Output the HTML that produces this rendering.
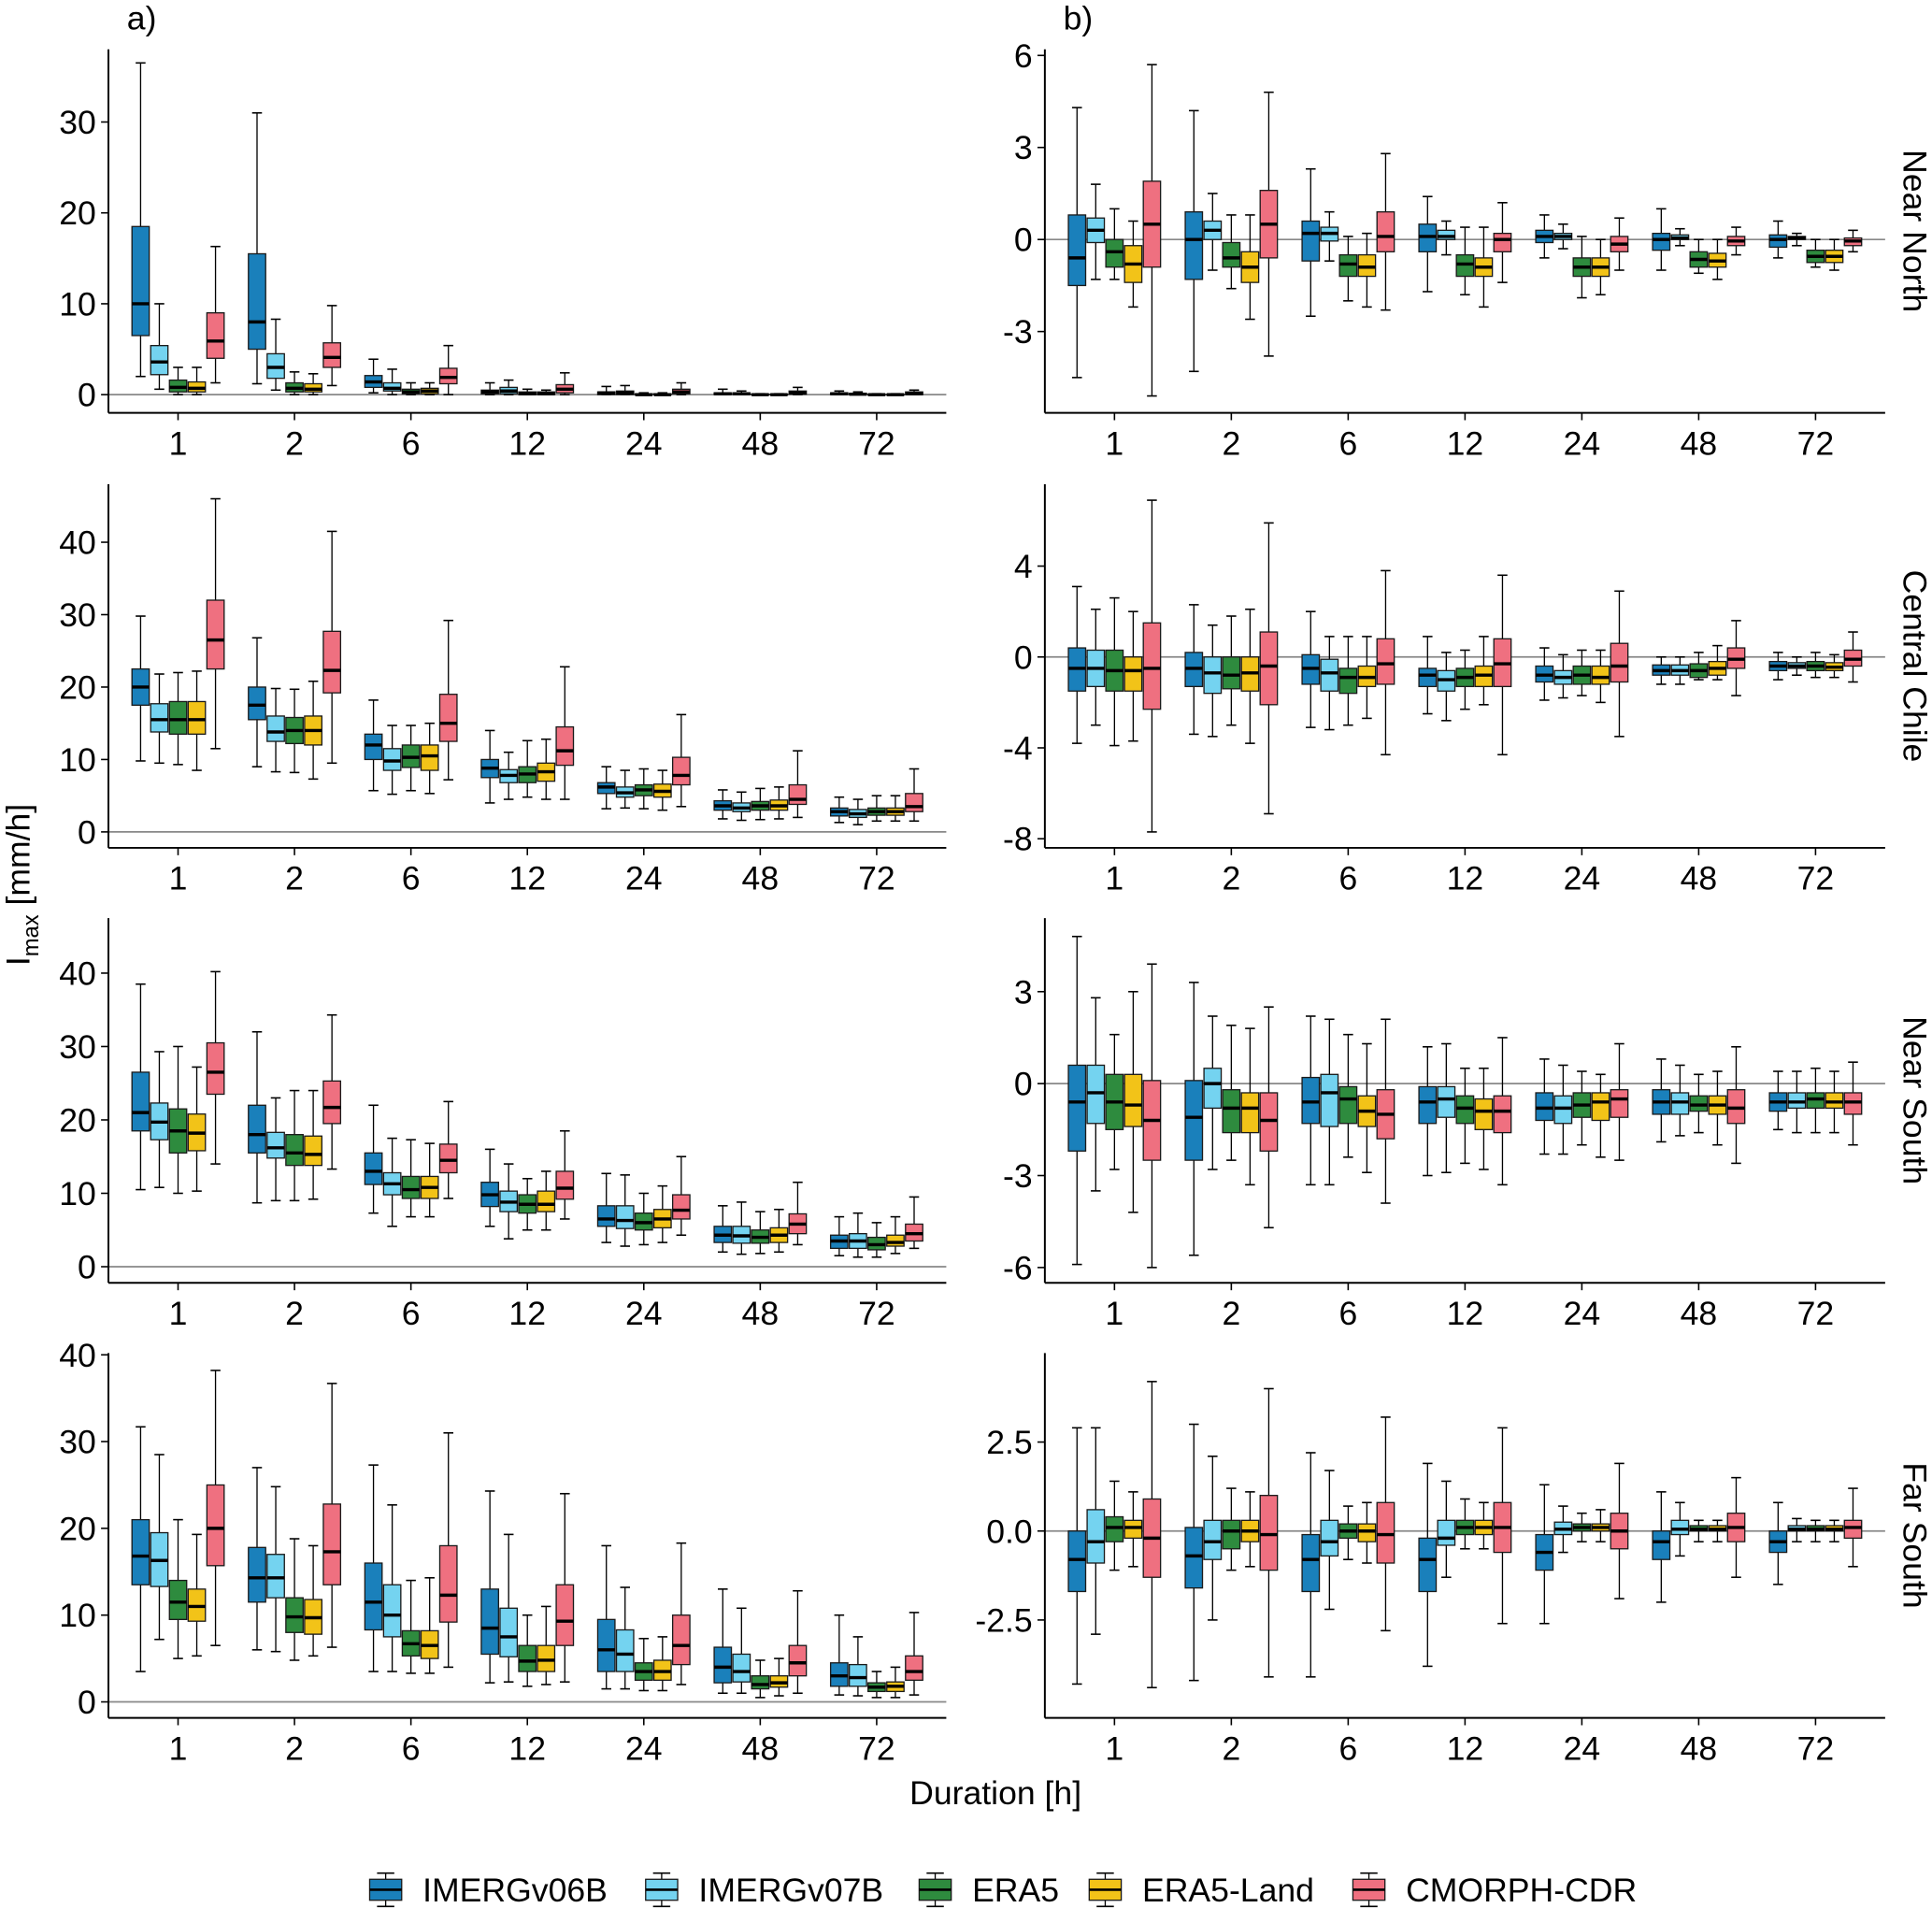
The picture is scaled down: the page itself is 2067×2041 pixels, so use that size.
<!DOCTYPE html>
<html><head><meta charset="utf-8"><style>
html,body{margin:0;padding:0;background:#fff}
svg{display:block}
text{font-family:"Liberation Sans",Arial,sans-serif;fill:#000}
</style></head><body>
<svg id="chart" xmlns="http://www.w3.org/2000/svg" width="2067" height="2041" viewBox="0 0 1568 1548.3">
<rect width="1568" height="1549" fill="#fff"/>
<text x="103" y="24" font-size="27">a)</text>
<text x="863" y="24" font-size="27">b)</text>
<text transform="translate(24,718) rotate(-90)" text-anchor="middle" font-size="27">I<tspan font-size="18" dy="7">max</tspan><tspan dy="-7"> [mm/h]</tspan></text>
<text x="808" y="1464" text-anchor="middle" font-size="27">Duration [h]</text>
<g id="plots"></g>
<g id="legend"></g>
</svg>
<script>
const categories = ["1","2","6","12","24","48","72"];
const seriesNames = ["IMERGv06B","IMERGv07B","ERA5","ERA5-Land","CMORPH-CDR"];
const regions = ["Near North","Central Chile","Near South","Far South"];
const colors = ["#1a80bb","#74d3f0","#2e8b3e","#f2c318","#ef7080"];

// each entry: [lower whisker, q1, median, q3, upper whisker]
// Panel a) Imax, Near North
const aNN_v06=[[2,6.5,10,18.5,36.5],[1.2,5,8,15.5,31],[0.2,0.8,1.4,2.1,3.9],[0,0.1,0.3,0.5,1.3],[0,0,0.2,0.3,0.9],[0,0,0.1,0.2,0.6],[0,0,0.1,0.2,0.4]];
const aNN_v07=[[0.6,2.2,3.6,5.4,10],[0.5,1.8,3,4.5,8.3],[0,0.4,0.7,1.3,2.8],[0,0.1,0.4,0.8,1.6],[0,0,0.2,0.4,1],[0,0,0.1,0.2,0.4],[0,0,0.05,0.15,0.3]];
const aNN_era5=[[0,0.3,0.8,1.6,3],[0,0.3,0.7,1.3,2.5],[0,0.1,0.3,0.6,1.3],[0,0,0.1,0.3,0.6],[0,0,0,0.1,0.2],[0,0,0,0.05,0.1],[0,0,0,0.03,0.1]];
const aNN_land=[[0,0.3,0.7,1.4,3],[0,0.3,0.6,1.2,2.3],[0,0.1,0.4,0.7,1.3],[0,0,0.1,0.3,0.5],[0,0,0,0.1,0.2],[0,0,0,0.05,0.1],[0,0,0,0.03,0.1]];
const aNN_cmorph=[[1.3,4,5.9,9,16.3],[1,3,4.1,5.7,9.8],[0,1.2,1.9,2.9,5.4],[0,0.2,0.6,1.1,2.4],[0,0.1,0.3,0.6,1.3],[0,0.05,0.2,0.4,0.8],[0,0,0.1,0.3,0.5]];
// Panel a) Central Chile
const aCC_v06=[[9.8,17.5,20,22.5,29.8],[9,15.5,17.5,20,26.8],[5.7,10,12,13.5,18.2],[4,7.5,8.8,10,14],[3.2,5.3,6.2,6.8,9],[1.8,3,3.6,4.3,5.8],[1.3,2.2,2.8,3.3,4.8]];
const aCC_v07=[[9.5,13.8,15.5,17.7,21.8],[8.3,12.5,13.8,16,19.8],[5.2,8.5,9.8,11.5,14.7],[4.5,6.8,7.8,8.6,11],[3.3,4.8,5.4,6.2,8.5],[1.6,2.8,3.3,4,5.5],[1,2,2.5,3.1,4.5]];
const aCC_era5=[[9.3,13.5,15.5,18,22],[8.2,12.2,14,15.8,19.7],[5.7,8.9,10.3,12,14.7],[4.8,6.8,8,9,12.6],[3.2,5,5.8,6.5,8.7],[1.7,3,3.6,4.2,6],[1.5,2.3,2.8,3.3,5]];
const aCC_land=[[8.5,13.5,15.5,18,22.2],[7.3,12,14,16,20.8],[5.3,8.5,10.5,12,15],[4.5,7,8.3,9.5,12.8],[3,4.8,5.6,6.6,8.5],[1.8,3,3.6,4.4,6.2],[1.5,2.3,2.8,3.3,5]];
const aCC_cmorph=[[11.5,22.5,26.5,32,46],[9.5,19.2,22.3,27.7,41.5],[7.2,12.5,15,19,29.2],[4.5,9.2,11.2,14.5,22.8],[3.5,6.5,7.8,10.3,16.2],[2,3.8,4.5,6.5,11.2],[1.5,2.8,3.5,5.3,8.7]];
// Panel a) Near South
const aNS_v06=[[10.5,18.5,21,26.5,38.5],[8.7,15.5,18,22,32],[7.3,11.2,13,15.5,22],[5.5,8.2,9.8,11.5,16],[3.3,5.5,6.5,8.3,12.7],[2,3.3,4.3,5.5,8.3],[1.5,2.5,3.5,4.3,6.8]];
const aNS_v07=[[10.8,17.3,19.7,22.3,29.3],[9,14.8,16.2,18.3,23],[5.5,9.8,11.3,12.8,17.5],[3.8,7.5,8.8,10.3,14],[2.8,5.2,6.3,8.3,12.5],[1.7,3.2,4.2,5.5,8.8],[1.3,2.5,3.5,4.5,7.3]];
const aNS_era5=[[10,15.5,18.5,21.5,30],[9,13.8,15.5,18,24],[6.8,9.3,10.5,12.3,17.3],[5,7.3,8.5,9.8,12],[3,5,6,7.3,10],[1.8,3.2,4,5,7.5],[1.3,2.3,3,4,6]];
const aNS_land=[[10.3,15.8,18.2,20.8,27.2],[9.2,13.8,15.3,17.8,24],[6.8,9.3,10.8,12.3,16.8],[5,7.5,8.5,10.3,13],[3.3,5.3,6.5,7.8,11],[2,3.3,4.3,5.3,7.8],[1.8,2.8,3.3,4.3,6.8]];
const aNS_cmorph=[[14,23.5,26.5,30.5,40.2],[13.3,19.5,21.7,25.3,34.3],[9.3,12.8,14.5,16.7,22.5],[6.5,9.2,10.7,13,18.5],[4.3,6.5,7.7,9.8,15],[3,4.5,5.8,7.2,11.5],[2.5,3.5,4.5,5.8,9.5]];
// Panel a) Far South
const aFS_v06=[[3.5,13.5,16.8,21,31.7],[6,11.5,14.3,17.8,27],[3.5,8.3,11.5,16,27.3],[2.2,5.5,8.5,13,24.3],[1.5,3.5,6,9.5,18],[1,2.2,4,6.3,13],[0.8,1.8,3,4.5,10]];
const aFS_v07=[[7.2,13.3,16.3,19.5,28.5],[5.8,12,14.3,17,24.8],[3.5,7.5,10,13.5,22.7],[2.3,5.2,7.5,10.8,19.3],[1.5,3.5,5.5,8.3,13.2],[1,2.3,3.5,5.5,10.8],[0.7,1.8,2.8,4.3,7.5]];
const aFS_era5=[[5,9.5,11.5,14,21],[4.8,8,9.8,12,18.8],[3.3,5.3,6.7,8.2,14],[1.8,3.5,4.7,6.5,10],[1.3,2.5,3.5,4.5,7.3],[0.5,1.5,2,3,4.8],[0.5,1.2,1.7,2.2,3.5]];
const aFS_land=[[5.3,9.3,11,13,19.3],[5.3,7.8,9.7,11.8,18],[3.3,5,6.5,8.2,14.3],[2,3.5,4.8,6.5,11],[1.3,2.5,3.5,4.8,7.5],[0.7,1.7,2.2,3,5],[0.5,1.2,1.8,2.3,4]];
const aFS_cmorph=[[6.5,15.7,20,25,38.2],[6.3,13.5,17.3,22.8,36.7],[4,9.2,12.3,18,31],[2.3,6.5,9.3,13.5,24],[2,4.3,6.5,10,18.3],[1,3,4.5,6.5,12.8],[0.8,2.5,3.5,5.3,10.3]];
// Panel b) Near North
const bNN_v06=[[-4.5,-1.5,-0.6,0.8,4.3],[-4.3,-1.3,0,0.9,4.2],[-2.5,-0.7,0.2,0.6,2.3],[-1.7,-0.4,0.1,0.5,1.4],[-0.6,-0.1,0.1,0.3,0.8],[-1,-0.35,0,0.2,1],[-0.6,-0.25,0,0.15,0.6]];
const bNN_v07=[[-1.3,-0.1,0.3,0.7,1.8],[-1,0,0.3,0.6,1.5],[-0.7,-0.05,0.2,0.4,0.9],[-0.5,0,0.1,0.3,0.6],[-0.3,0,0.1,0.2,0.5],[-0.2,0,0.05,0.15,0.35],[-0.2,0,0.05,0.1,0.2]];
const bNN_era5=[[-1.3,-0.9,-0.4,0,1],[-1.6,-0.9,-0.6,-0.1,0.8],[-2,-1.2,-0.8,-0.5,0.1],[-1.8,-1.2,-0.8,-0.5,0.4],[-1.9,-1.2,-0.9,-0.6,0.1],[-1.1,-0.9,-0.65,-0.4,0],[-0.9,-0.75,-0.55,-0.35,0]];
const bNN_land=[[-2.2,-1.4,-0.8,-0.2,0.6],[-2.6,-1.4,-0.9,-0.4,0.8],[-2.2,-1.2,-0.9,-0.5,0.2],[-2.2,-1.2,-0.9,-0.6,0.4],[-1.8,-1.2,-0.9,-0.6,0],[-1.3,-0.9,-0.7,-0.45,0],[-1,-0.75,-0.55,-0.35,0]];
const bNN_cmorph=[[-5.1,-0.9,0.5,1.9,5.7],[-3.8,-0.6,0.5,1.6,4.8],[-2.3,-0.4,0.1,0.9,2.8],[-1.4,-0.4,0,0.2,1.2],[-1,-0.4,-0.15,0.1,0.7],[-0.5,-0.2,-0.05,0.1,0.4],[-0.4,-0.2,-0.05,0.05,0.3]];
// Panel b) Central Chile
const bCC_v06=[[-3.8,-1.5,-0.5,0.4,3.1],[-3.4,-1.3,-0.5,0.2,2.3],[-3.1,-1.2,-0.5,0.1,2],[-2.5,-1.3,-0.8,-0.5,0.9],[-1.9,-1.1,-0.8,-0.4,0.4],[-1.2,-0.8,-0.6,-0.35,0],[-1,-0.6,-0.4,-0.2,0.2]];
const bCC_v07=[[-3,-1.3,-0.5,0.3,2.1],[-3.5,-1.6,-0.7,0,1.4],[-3.2,-1.5,-0.7,-0.1,0.9],[-2.8,-1.5,-1,-0.6,0.2],[-1.8,-1.2,-0.9,-0.6,0.1],[-1.2,-0.8,-0.6,-0.35,0],[-0.8,-0.5,-0.4,-0.25,0]];
const bCC_era5=[[-3.9,-1.5,-0.6,0.3,2.6],[-3,-1.4,-0.8,0,1.8],[-3,-1.6,-0.9,-0.5,0.9],[-2.3,-1.3,-0.9,-0.5,0.3],[-1.7,-1.2,-0.8,-0.4,0.3],[-1,-0.9,-0.6,-0.3,0.2],[-0.9,-0.6,-0.4,-0.2,0.2]];
const bCC_land=[[-3.7,-1.5,-0.6,0,2],[-3.8,-1.5,-0.7,0,2.1],[-2.7,-1.3,-0.9,-0.4,0.9],[-2.1,-1.3,-0.8,-0.4,0.9],[-2,-1.2,-0.9,-0.4,0.3],[-1,-0.8,-0.5,-0.2,0.5],[-0.9,-0.6,-0.45,-0.25,0.1]];
const bCC_cmorph=[[-7.7,-2.3,-0.5,1.5,6.9],[-6.9,-2.1,-0.4,1.1,5.9],[-4.3,-1.2,-0.3,0.8,3.8],[-4.3,-1.3,-0.3,0.8,3.6],[-3.5,-1.1,-0.4,0.6,2.9],[-1.7,-0.5,-0.1,0.4,1.6],[-1.1,-0.4,-0.1,0.3,1.1]];
// Panel b) Near South
const bNS_v06=[[-5.9,-2.2,-0.6,0.6,4.8],[-5.6,-2.5,-1.1,0.1,3.3],[-3.3,-1.3,-0.6,0.2,2.2],[-3,-1.3,-0.6,-0.1,1.2],[-2.3,-1.2,-0.8,-0.3,0.8],[-1.9,-1,-0.6,-0.2,0.8],[-1.5,-0.9,-0.6,-0.3,0.4]];
const bNS_v07=[[-3.5,-1.3,-0.3,0.6,2.8],[-2.8,-0.8,0,0.5,2.2],[-3.3,-1.4,-0.3,0.3,2.1],[-2.9,-1.1,-0.5,-0.1,1.3],[-2.3,-1.3,-0.8,-0.4,0.6],[-1.7,-1,-0.6,-0.3,0.6],[-1.6,-0.8,-0.6,-0.3,0.4]];
const bNS_era5=[[-2.8,-1.5,-0.6,0.3,1.6],[-2.5,-1.6,-0.8,-0.2,1.9],[-2.4,-1.3,-0.5,-0.1,1.6],[-2.6,-1.3,-0.8,-0.4,0.5],[-2,-1.1,-0.7,-0.3,0.4],[-1.6,-0.9,-0.7,-0.4,0.3],[-1.6,-0.8,-0.5,-0.3,0.5]];
const bNS_land=[[-4.2,-1.4,-0.7,0.3,3],[-3.3,-1.6,-0.8,-0.3,1.8],[-2.9,-1.4,-0.9,-0.4,1.3],[-2.8,-1.5,-0.9,-0.5,0.5],[-2.4,-1.2,-0.6,-0.3,0.3],[-2,-1,-0.7,-0.4,0.4],[-1.6,-0.8,-0.6,-0.3,0.4]];
const bNS_cmorph=[[-6,-2.5,-1.2,0.1,3.9],[-4.7,-2.2,-1.2,-0.3,2.5],[-3.9,-1.8,-1,-0.2,2.1],[-3.3,-1.6,-0.9,-0.4,1.5],[-2.5,-1.1,-0.5,-0.2,1.3],[-2.6,-1.3,-0.8,-0.2,1.2],[-2,-1,-0.6,-0.3,0.7]];
// Panel b) Far South
const bFS_v06=[[-4.3,-1.7,-0.8,0,2.9],[-4.2,-1.6,-0.7,0.1,3],[-4.1,-1.7,-0.8,-0.1,2.2],[-3.8,-1.7,-0.8,-0.2,1.9],[-2.6,-1.1,-0.6,-0.1,1.3],[-2,-0.8,-0.3,0,1.1],[-1.5,-0.6,-0.3,0,0.8]];
const bFS_v07=[[-2.9,-0.9,-0.3,0.6,2.9],[-2.5,-0.8,-0.3,0.3,2.1],[-2.2,-0.7,-0.3,0.3,1.7],[-1.3,-0.4,-0.2,0.3,1.4],[-0.6,-0.1,0.05,0.25,0.7],[-0.7,-0.1,0.05,0.3,0.8],[-0.3,0,0.05,0.15,0.35]];
const bFS_era5=[[-1.1,-0.3,0.1,0.4,1.4],[-1.1,-0.5,0,0.3,1.2],[-0.8,-0.2,0,0.2,0.7],[-0.5,-0.1,0.1,0.3,0.9],[-0.3,0,0.1,0.2,0.5],[-0.3,0,0.05,0.15,0.3],[-0.3,0,0.05,0.15,0.3]];
const bFS_land=[[-1,-0.2,0.1,0.3,1.1],[-1,-0.3,0,0.3,1.1],[-0.9,-0.3,0,0.2,0.8],[-0.5,-0.1,0.1,0.3,0.8],[-0.3,0,0.1,0.2,0.6],[-0.3,0,0.05,0.15,0.3],[-0.3,0,0.05,0.15,0.3]];
const bFS_cmorph=[[-4.4,-1.3,-0.2,0.9,4.2],[-4.1,-1.1,-0.1,1,4],[-2.8,-0.9,-0.1,0.8,3.2],[-2.6,-0.6,0.1,0.8,2.9],[-1.9,-0.5,0,0.5,1.9],[-1.3,-0.3,0.1,0.5,1.5],[-1,-0.2,0.1,0.3,1.2]];

// tick labels
const ticksA1=[0,10,20,30], ticksA2=[0,10,20,30,40], ticksA3=[0,10,20,30,40], ticksA4=[0,10,20,30,40];
const ticksB1=[-3,0,3,6], ticksB2=[-8,-4,0,4], ticksB3=[-6,-3,0,3], ticksB4=[-2.5,0,2.5];

const NS="http://www.w3.org/2000/svg";
function mk(tag,attrs,parent){const e=document.createElementNS(NS,tag);for(const k in attrs)e.setAttribute(k,attrs[k]);parent.appendChild(e);return e;}

const rowsY=[[40,335],[393,688],[745,1041],[1098,1394]];
const panels=[
 {col:0,row:0,data:[aNN_v06,aNN_v07,aNN_era5,aNN_land,aNN_cmorph],ticks:ticksA1,dom:[-2,38],lab:v=>String(v)},
 {col:0,row:1,data:[aCC_v06,aCC_v07,aCC_era5,aCC_land,aCC_cmorph],ticks:ticksA2,dom:[-2.2,48],lab:v=>String(v)},
 {col:0,row:2,data:[aNS_v06,aNS_v07,aNS_era5,aNS_land,aNS_cmorph],ticks:ticksA3,dom:[-2.2,47.5],lab:v=>String(v)},
 {col:0,row:3,data:[aFS_v06,aFS_v07,aFS_era5,aFS_land,aFS_cmorph],ticks:ticksA4,dom:[-1.84,40.2],lab:v=>String(v)},
 {col:1,row:0,data:[bNN_v06,bNN_v07,bNN_era5,bNN_land,bNN_cmorph],ticks:ticksB1,dom:[-5.65,6.2],lab:v=>String(v)},
 {col:1,row:1,data:[bCC_v06,bCC_v07,bCC_era5,bCC_land,bCC_cmorph],ticks:ticksB2,dom:[-8.4,7.6],lab:v=>String(v)},
 {col:1,row:2,data:[bNS_v06,bNS_v07,bNS_era5,bNS_land,bNS_cmorph],ticks:ticksB3,dom:[-6.5,5.4],lab:v=>String(v)},
 {col:1,row:3,data:[bFS_v06,bFS_v07,bFS_era5,bFS_land,bFS_cmorph],ticks:ticksB4,dom:[-5.25,5],lab:v=>v.toFixed(1)}
];
const plots=document.getElementById('plots');
panels.forEach((p,pi)=>{
  const x0=p.col?848:88, x1=p.col?1530:768;
  const yt=rowsY[p.row][0], yb=rowsY[p.row][1];
  const y=v=>yb-(v-p.dom[0])/(p.dom[1]-p.dom[0])*(yb-yt);
  const cx0=x0+56.5, step=(x1-x0-113)/6;
  const xc=i=>cx0+i*step;
  const g=mk('g',{},plots);
  
  
  const zl=mk('line',{x1:x0,x2:x1,y1:y(0),y2:y(0),stroke:'#888','stroke-width':1.3},g);
  
  
  // boxes
  const off=15.2, bw=14;
  p.data.forEach((ser,si)=>{
    ser.forEach((d,ci)=>{
      const cx=xc(ci)+(si-2)*off;
      const bg=mk('g',{},g);
      
      
      mk('line',{x1:cx,x2:cx,y1:y(d[0]),y2:y(d[4]),stroke:'#000','stroke-width':1},bg);
      mk('line',{x1:cx-4,x2:cx+4,y1:y(d[0]),y2:y(d[0]),stroke:'#000','stroke-width':1.2},bg);
      mk('line',{x1:cx-4,x2:cx+4,y1:y(d[4]),y2:y(d[4]),stroke:'#000','stroke-width':1.2},bg);
      mk('rect',{x:cx-bw/2,y:y(d[3]),width:bw,height:Math.max(0.5,y(d[1])-y(d[3])),fill:colors[si],stroke:'#1a1a1a','stroke-width':1},bg);
      mk('line',{x1:cx-bw/2,x2:cx+bw/2,y1:y(d[2]),y2:y(d[2]),stroke:'#000','stroke-width':2.6},bg);
    });
  });
  // axes
  const ax=mk('g',{},g);
  
  
  mk('line',{x1:x0,x2:x0,y1:yt,y2:yb,stroke:'#000','stroke-width':1.5},ax);
  p.ticks.forEach(t=>{
    mk('line',{x1:x0-6,x2:x0,y1:y(t),y2:y(t),stroke:'#000','stroke-width':1.2},ax);
    const tx=mk('text',{x:x0-10,y:y(t)+9.5,'text-anchor':'end','font-size':27},ax);
    tx.textContent=p.lab(t);
  });
  const xa=mk('g',{},g);
  
  
  mk('line',{x1:x0,x2:x1,y1:yb,y2:yb,stroke:'#000','stroke-width':1.5},xa);
  categories.forEach((c,ci)=>{
    mk('line',{x1:xc(ci),x2:xc(ci),y1:yb,y2:yb+6,stroke:'#000','stroke-width':1.2},xa);
    const tx=mk('text',{x:xc(ci),y:yb+34,'text-anchor':'middle','font-size':27},xa);
    tx.textContent=c;
  });
  if(p.col){
    const st=mk('text',{transform:'translate(1545,'+((yt+yb)/2)+') rotate(90)','text-anchor':'middle','font-size':27},g);
    
    
    st.textContent=regions[p.row];
  }
});
// legend
const lg=document.getElementById('legend');
const lx=[300,524,746,884,1098];
seriesNames.forEach((n,i)=>{
  const e=mk('g',{},lg);
  
  
  const cx=lx[i]+13;
  mk('line',{x1:cx,x2:cx,y1:1520,y2:1547,stroke:'#000','stroke-width':1},e);
  mk('line',{x1:cx-7,x2:cx+7,y1:1520,y2:1520,stroke:'#000','stroke-width':1.2},e);
  mk('line',{x1:cx-7,x2:cx+7,y1:1547,y2:1547,stroke:'#000','stroke-width':1.2},e);
  mk('rect',{x:lx[i],y:1525,width:26,height:17,fill:colors[i],stroke:'#1a1a1a','stroke-width':1},e);
  mk('line',{x1:lx[i],x2:lx[i]+26,y1:1533.5,y2:1533.5,stroke:'#000','stroke-width':2},e);
  const t=mk('text',{x:lx[i]+43,y:1543,'font-size':27},e);
  t.textContent=n;
});
</script>
</body></html>
